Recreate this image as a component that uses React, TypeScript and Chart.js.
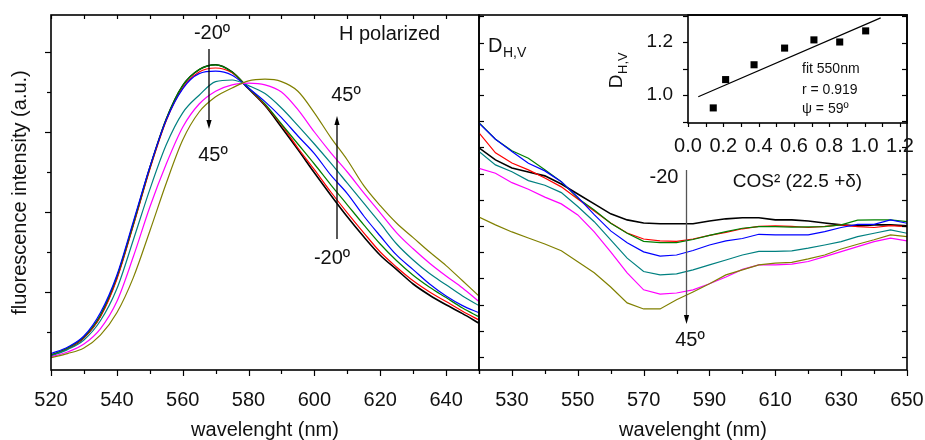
import React, { useEffect, useRef } from 'react';
import { Chart, registerables } from 'chart.js';

Chart.register(...registerables);

const FONT = "'Liberation Sans', Arial, Helvetica, sans-serif";
const INK = '#111111';

// ---------- shared categories ----------
const wavelengths = [520, 525, 530, 535, 540, 545, 550, 555, 560, 565, 570, 575, 580, 585, 590, 595, 600, 605, 610, 615, 620, 625, 630, 635, 640, 645, 650];
const angleLabels = ['-20º', '0º', '10º', '20º', '30º', '40º', '45º'];
const seriesColors = ['#000000', '#ff0000', '#008000', '#0000ff', '#008080', '#ff00ff', '#808000'];

// ---------- left panel: fluorescence intensity (a.u.), H polarized ----------
const fluoM20 = [0.21, 0.29, 0.43, 0.70, 1.18, 1.85, 2.55, 3.16, 3.58, 3.78, 3.84, 3.75, 3.54, 3.33, 3.06, 2.78, 2.49, 2.21, 1.94, 1.69, 1.46, 1.28, 1.10, 0.96, 0.84, 0.73, 0.61];
const fluo0 = [0.21, 0.29, 0.43, 0.69, 1.16, 1.83, 2.53, 3.14, 3.55, 3.75, 3.80, 3.74, 3.55, 3.34, 3.09, 2.80, 2.53, 2.25, 1.99, 1.74, 1.50, 1.31, 1.14, 1.00, 0.88, 0.76, 0.65];
const fluo10 = [0.21, 0.30, 0.44, 0.71, 1.19, 1.85, 2.55, 3.16, 3.58, 3.78, 3.84, 3.75, 3.55, 3.35, 3.10, 2.85, 2.60, 2.34, 2.09, 1.84, 1.60, 1.39, 1.21, 1.06, 0.93, 0.80, 0.69];
const fluo20 = [0.23, 0.31, 0.45, 0.74, 1.21, 1.88, 2.56, 3.15, 3.54, 3.73, 3.76, 3.71, 3.55, 3.38, 3.18, 2.95, 2.73, 2.46, 2.23, 1.95, 1.70, 1.46, 1.28, 1.10, 0.95, 0.83, 0.74];
const fluo30 = [0.20, 0.28, 0.40, 0.64, 1.04, 1.65, 2.28, 2.84, 3.24, 3.46, 3.63, 3.65, 3.58, 3.48, 3.30, 3.08, 2.85, 2.61, 2.36, 2.11, 1.86, 1.60, 1.40, 1.23, 1.09, 0.95, 0.83];
const fluo40 = [0.19, 0.25, 0.35, 0.54, 0.88, 1.44, 2.06, 2.60, 3.06, 3.35, 3.51, 3.59, 3.61, 3.59, 3.50, 3.28, 3.00, 2.74, 2.50, 2.24, 1.99, 1.74, 1.54, 1.36, 1.20, 1.05, 0.88];
const fluo45 = [0.18, 0.23, 0.30, 0.46, 0.74, 1.18, 1.76, 2.36, 2.90, 3.25, 3.44, 3.55, 3.64, 3.66, 3.63, 3.51, 3.24, 2.93, 2.65, 2.33, 2.08, 1.86, 1.68, 1.50, 1.33, 1.14, 0.95];
const fluoSeries = [fluoM20, fluo0, fluo10, fluo20, fluo30, fluo40, fluo45];
const leftXTickLabels = [520, 540, 560, 580, 600, 620, 640];

// ---------- right panel: D_H,V ----------
const dhvM20 = [1.398, 1.352, 1.321, 1.306, 1.291, 1.260, 1.222, 1.184, 1.146, 1.123, 1.111, 1.108, 1.108, 1.108, 1.119, 1.127, 1.131, 1.131, 1.123, 1.123, 1.119, 1.111, 1.104, 1.100, 1.104, 1.104, 1.100];
const dhv0 = [1.455, 1.379, 1.340, 1.314, 1.283, 1.249, 1.203, 1.157, 1.111, 1.073, 1.050, 1.043, 1.041, 1.050, 1.064, 1.075, 1.089, 1.098, 1.100, 1.098, 1.094, 1.098, 1.104, 1.097, 1.094, 1.101, 1.097];
const dhv10 = [1.494, 1.431, 1.387, 1.358, 1.314, 1.269, 1.206, 1.161, 1.110, 1.072, 1.041, 1.036, 1.036, 1.048, 1.064, 1.078, 1.091, 1.097, 1.097, 1.095, 1.096, 1.097, 1.104, 1.122, 1.123, 1.123, 1.116];
const dhv20 = [1.492, 1.431, 1.384, 1.339, 1.310, 1.269, 1.210, 1.143, 1.081, 1.036, 1.001, 0.985, 0.989, 1.006, 1.027, 1.043, 1.052, 1.068, 1.066, 1.066, 1.066, 1.078, 1.094, 1.106, 1.106, 1.123, 1.110];
const dhv30 = [1.384, 1.333, 1.307, 1.273, 1.255, 1.227, 1.174, 1.116, 1.047, 0.977, 0.926, 0.913, 0.917, 0.932, 0.951, 0.970, 0.989, 1.003, 1.003, 1.005, 1.015, 1.027, 1.040, 1.059, 1.072, 1.085, 1.072];
const dhv40 = [1.320, 1.301, 1.265, 1.240, 1.210, 1.184, 1.142, 1.077, 1.001, 0.921, 0.856, 0.840, 0.844, 0.856, 0.879, 0.905, 0.934, 0.951, 0.951, 0.954, 0.964, 0.983, 1.002, 1.021, 1.040, 1.053, 1.043];
const dhv45 = [1.134, 1.104, 1.077, 1.054, 1.031, 1.005, 0.963, 0.921, 0.867, 0.806, 0.783, 0.783, 0.818, 0.848, 0.879, 0.913, 0.932, 0.951, 0.958, 0.961, 0.974, 0.989, 1.012, 1.030, 1.047, 1.066, 1.059];
const dhvSeries = [dhvM20, dhv0, dhv10, dhv20, dhv30, dhv40, dhv45];
const rightXTickLabels = [530, 550, 570, 590, 610, 630, 650];

// ---------- inset: D_H,V at 550 nm vs cos^2(22.5 + delta) ----------
const cos2Values = [0.143, 0.213, 0.374, 0.547, 0.713, 0.859, 1.006];
const dhv550 = [0.952, 1.059, 1.115, 1.178, 1.209, 1.201, 1.243];
const fitX = [0.058, 1.091];
const fitY = [0.994, 1.292];
const insetXTickLabels = [0, 0.2, 0.4, 0.6, 0.8, 1.0, 1.2];
const insetYTickLabels = [1.0, 1.2];

type TickSpec = { scale: string; side: 'bottom' | 'top' | 'left' | 'right'; dir: 'in' | 'out'; major: number; minor: number; isMajor?: (v: number) => boolean };

function makeFramePlugin(id: string, specs: TickSpec[], annotate?: (ctx: CanvasRenderingContext2D, chart: any) => void) {
  return {
    id,
    afterDraw(chart: any) {
      const ctx: CanvasRenderingContext2D = chart.ctx;
      const a = chart.chartArea;
      ctx.save();
      ctx.strokeStyle = '#000';
      ctx.lineWidth = 1.2;
      for (const s of specs) {
        const scale = chart.scales[s.scale];
        const sign = s.dir === 'out' ? 1 : -1;
        for (const t of scale.ticks) {
          const p = Math.round(scale.getPixelForValue(t.value)) + 0.5;
          const len = s.isMajor && s.isMajor(t.value) ? s.major : s.minor;
          ctx.beginPath();
          if (s.side === 'bottom') { ctx.moveTo(p, a.bottom); ctx.lineTo(p, a.bottom + sign * len); }
          else if (s.side === 'top') { ctx.moveTo(p, a.top); ctx.lineTo(p, a.top - sign * len); }
          else if (s.side === 'left') { ctx.moveTo(a.left, p); ctx.lineTo(a.left - sign * len, p); }
          else { ctx.moveTo(a.right, p); ctx.lineTo(a.right + sign * len, p); }
          ctx.stroke();
        }
      }
      ctx.lineWidth = 1.6;
      ctx.strokeRect(a.left, a.top, a.right - a.left, a.bottom - a.top);
      ctx.restore();
      if (annotate) {
        ctx.save();
        annotate(ctx, chart);
        ctx.restore();
      }
    },
  };
}

function drawText(ctx: CanvasRenderingContext2D, s: string, x: number, y: number, size: number, align: CanvasTextAlign = 'center') {
  ctx.font = `${size}px ${FONT}`;
  ctx.fillStyle = INK;
  ctx.textAlign = align;
  ctx.textBaseline = 'middle';
  ctx.fillText(s, x, y);
}

function drawArrow(ctx: CanvasRenderingContext2D, x: number, yFrom: number, yTo: number, lineColor = '#000', headColor = '#000') {
  const dir = yTo > yFrom ? 1 : -1;
  ctx.strokeStyle = lineColor;
  ctx.lineWidth = 1.3;
  ctx.beginPath();
  ctx.moveTo(x, yFrom);
  ctx.lineTo(x, yTo - dir * 6);
  ctx.stroke();
  ctx.fillStyle = headColor;
  ctx.beginPath();
  ctx.moveTo(x, yTo);
  ctx.lineTo(x - 2.6, yTo - dir * 9);
  ctx.lineTo(x + 2.6, yTo - dir * 9);
  ctx.closePath();
  ctx.fill();
}

const tickFont = { family: FONT, size: 20 };
const titleFont = { family: FONT, size: 20, lineHeight: 1 };

function lineDatasets(series: number[][], tension: number) {
  const order = [6, 5, 4, 3, 2, 1, 0];
  return order.map((i) => ({
    label: angleLabels[i],
    data: wavelengths.map((w, k) => ({ x: w, y: series[i][k] })),
    borderColor: seriesColors[i],
    backgroundColor: seriesColors[i],
    borderWidth: i === 0 ? 1.6 : 1.2,
    pointRadius: 0,
    tension,
    cubicInterpolationMode: tension > 0 ? ('monotone' as const) : ('default' as const),
    fill: false,
  }));
}

// grid not drawn; tickLength only used to offset labels (ticks drawn by frame plugin)
const hiddenGrid = (len: number) => ({ display: false, drawTicks: true, tickLength: len });

function makeLeft(canvas: HTMLCanvasElement) {
  const specs: TickSpec[] = [
    { scale: 'x', side: 'bottom', dir: 'out', major: 6, minor: 4, isMajor: (v) => Math.round(v) % 20 === 0 },
    { scale: 'x', side: 'top', dir: 'in', major: 4, minor: 4 },
    { scale: 'y', side: 'left', dir: 'out', major: 6, minor: 4, isMajor: (v) => Math.abs(v - Math.round(v)) < 1e-6 },
  ];
  const annotate = (ctx: CanvasRenderingContext2D) => {
    drawText(ctx, '-20º', 212, 33, 20);
    drawArrow(ctx, 209, 49, 129);
    drawText(ctx, '45º', 213, 155, 20);
    drawText(ctx, 'H polarized', 339, 34, 20, 'left');
    drawText(ctx, '45º', 346, 95, 20);
    drawArrow(ctx, 337, 239, 116);
    drawText(ctx, '-20º', 332, 258, 20);
  };
  return new Chart(canvas, {
    type: 'line',
    data: { datasets: lineDatasets(fluoSeries, 0.4) as any },
    options: {
      animation: false,
      responsive: false,
      devicePixelRatio: 1,
      layout: { padding: { left: 0, right: 6, top: 15, bottom: 0 } },
      plugins: { legend: { display: false }, tooltip: { enabled: false } },
      scales: {
        x: {
          type: 'linear', min: 520, max: 650,
          grid: hiddenGrid(18), border: { display: false },
          ticks: {
            stepSize: 10, autoSkip: false, maxRotation: 0, includeBounds: false, padding: 0, color: INK, font: tickFont,
            callback: (v: any) => (leftXTickLabels.includes(Math.round(Number(v))) ? String(Math.round(Number(v))) : ''),
          },
          title: { display: true, text: 'wavelenght (nm)', color: INK, font: titleFont, padding: { top: 0, bottom: 0 } },
          afterFit: (s: any) => { s.height = 70; },
        },
        y: {
          type: 'linear', min: 0.025, max: 4.4625,
          grid: hiddenGrid(0), border: { display: false },
          ticks: { display: false, stepSize: 0.5, includeBounds: false, padding: 0 },
          title: { display: true, text: 'fluorescence intensity (a.u.)', color: INK, font: titleFont, padding: { top: 10, bottom: 0 } },
          afterFit: (s: any) => { s.width = 51; },
        },
      },
    } as any,
    plugins: [makeFramePlugin('leftFrame', specs, annotate)],
  });
}

function makeRight(canvas: HTMLCanvasElement) {
  const OX = 460;
  const specs: TickSpec[] = [
    { scale: 'x', side: 'bottom', dir: 'out', major: 6, minor: 4, isMajor: (v) => (Math.round(v) - 530) % 20 === 0 },
    { scale: 'y', side: 'left', dir: 'in', major: 5, minor: 5 },
    { scale: 'y', side: 'right', dir: 'in', major: 5, minor: 5 },
  ];
  const annotate = (ctx: CanvasRenderingContext2D) => {
    ctx.font = `20px ${FONT}`;
    ctx.fillStyle = INK;
    ctx.textAlign = 'left';
    ctx.textBaseline = 'alphabetic';
    ctx.fillText('D', 488 - OX, 52);
    const wD = ctx.measureText('D').width;
    ctx.font = `14px ${FONT}`;
    ctx.fillText('H,V', 488 - OX + wD + 0.5, 57);
    drawText(ctx, '-20', 664 - OX, 177, 20);
    drawArrow(ctx, 686.5 - OX, 170, 324, '#555', '#000');
    drawText(ctx, '45º', 690 - OX, 340, 20);
  };
  return new Chart(canvas, {
    type: 'line',
    data: { datasets: lineDatasets(dhvSeries, 0) as any },
    options: {
      animation: false,
      responsive: false,
      devicePixelRatio: 1,
      layout: { padding: { left: 0, right: 18, top: 15, bottom: 0 } },
      plugins: { legend: { display: false }, tooltip: { enabled: false } },
      scales: {
        x: {
          type: 'linear', min: 520, max: 650,
          grid: hiddenGrid(18), border: { display: false },
          ticks: {
            stepSize: 10, autoSkip: false, maxRotation: 0, includeBounds: false, padding: 0, color: INK, font: tickFont,
            callback: (v: any) => (rightXTickLabels.includes(Math.round(Number(v))) ? String(Math.round(Number(v))) : ''),
          },
          title: { display: true, text: 'wavelenght (nm)', color: INK, font: titleFont, padding: { top: 0, bottom: 0 } },
          afterFit: (s: any) => { s.height = 70; },
        },
        y: {
          type: 'linear', min: 0.55, max: 1.905,
          grid: hiddenGrid(0), border: { display: false },
          ticks: { display: false, stepSize: 0.1, includeBounds: false, padding: 0 },
          afterFit: (s: any) => { s.width = 19; },
        },
      },
    } as any,
    plugins: [makeFramePlugin('rightFrame', specs, annotate)],
  });
}

function makeInset(canvas: HTMLCanvasElement) {
  const OX = 560;
  const specs: TickSpec[] = [
    { scale: 'x', side: 'bottom', dir: 'out', major: 4, minor: 4 },
    { scale: 'y', side: 'left', dir: 'out', major: 5, minor: 5 },
  ];
  const annotate = (ctx: CanvasRenderingContext2D) => {
    drawText(ctx, 'fit 550nm', 802 - OX, 69, 14, 'left');
    drawText(ctx, 'r = 0.919', 802 - OX, 90, 14, 'left');
    drawText(ctx, 'ψ = 59º', 802 - OX, 109, 14, 'left');
    // rotated D_H,V axis title
    ctx.save();
    ctx.translate(620 - OX, 70.5);
    ctx.rotate(-Math.PI / 2);
    ctx.fillStyle = INK;
    ctx.textBaseline = 'alphabetic';
    ctx.textAlign = 'left';
    ctx.font = `19px ${FONT}`;
    const wD = ctx.measureText('D').width;
    ctx.font = `13px ${FONT}`;
    const wS = ctx.measureText('H,V').width;
    const x0 = -(wD + wS) / 2;
    ctx.font = `19px ${FONT}`;
    ctx.fillText('D', x0, 2);
    ctx.font = `13px ${FONT}`;
    ctx.fillText('H,V', x0 + wD + 0.5, 6.5);
    ctx.restore();
  };
  return new Chart(canvas, {
    type: 'scatter',
    data: {
      datasets: [
        {
          type: 'scatter',
          label: 'D(550 nm)',
          data: cos2Values.map((x, i) => ({ x, y: dhv550[i] })),
          pointStyle: 'rect',
          pointRadius: 5,
          backgroundColor: '#000',
          borderColor: '#000',
          borderWidth: 0,
        },
        {
          type: 'line',
          label: 'fit',
          data: fitX.map((x, i) => ({ x, y: fitY[i] })),
          borderColor: '#000',
          borderWidth: 1.2,
          pointRadius: 0,
          showLine: true,
          fill: false,
        },
      ] as any,
    },
    options: {
      animation: false,
      responsive: false,
      devicePixelRatio: 1,
      layout: { padding: { left: 0, right: 18, top: 15, bottom: 0 } },
      plugins: { legend: { display: false }, tooltip: { enabled: false } },
      scales: {
        x: {
          type: 'linear', min: 0, max: 1.24,
          grid: hiddenGrid(11.5), border: { display: false },
          ticks: {
            stepSize: 0.1, autoSkip: false, maxRotation: 0, includeBounds: false, padding: 0, color: INK, font: { family: FONT, size: 20 },
            callback: (v: any) => {
              const r = Math.round(Number(v) * 10) / 10;
              return insetXTickLabels.some((t) => Math.abs(t - r) < 1e-6) ? r.toFixed(1) : '';
            },
          },
          title: { display: true, text: 'COS² (22.5 +δ)', color: INK, font: { family: FONT, size: 19, lineHeight: 1 }, padding: { top: 0, bottom: 28.5 } },
          afterFit: (s: any) => { s.height = 97; },
        },
        y: {
          type: 'linear', min: 0.895, max: 1.303,
          grid: hiddenGrid(15), border: { display: false },
          ticks: {
            stepSize: 0.1, autoSkip: false, includeBounds: false, padding: 0, color: INK, font: { family: FONT, size: 19 },
            callback: (v: any) => {
              const r = Math.round(Number(v) * 10) / 10;
              return insetYTickLabels.some((t) => Math.abs(t - r) < 1e-6) ? r.toFixed(1) : '';
            },
          },
          afterFit: (s: any) => { s.width = 128; },
        },
      },
    } as any,
    plugins: [makeFramePlugin('insetFrame', specs, annotate)],
  });
}

export default function App() {
  const leftRef = useRef<HTMLCanvasElement>(null);
  const rightRef = useRef<HTMLCanvasElement>(null);
  const insetRef = useRef<HTMLCanvasElement>(null);

  useEffect(() => {
    const charts = [
      makeLeft(leftRef.current as HTMLCanvasElement),
      makeRight(rightRef.current as HTMLCanvasElement),
      makeInset(insetRef.current as HTMLCanvasElement),
    ];
    return () => charts.forEach((c) => c.destroy());
  }, []);

  return (
    <div style={{ position: 'fixed', left: 0, top: 0, width: 925, height: 440, background: '#fff', overflow: 'hidden' }}>
      <canvas ref={leftRef} width={485} height={440} style={{ position: 'absolute', left: 0, top: 0 }} />
      <canvas ref={rightRef} width={465} height={440} style={{ position: 'absolute', left: 460, top: 0 }} />
      <canvas ref={insetRef} width={365} height={220} style={{ position: 'absolute', left: 560, top: 0 }} />
    </div>
  );
}
